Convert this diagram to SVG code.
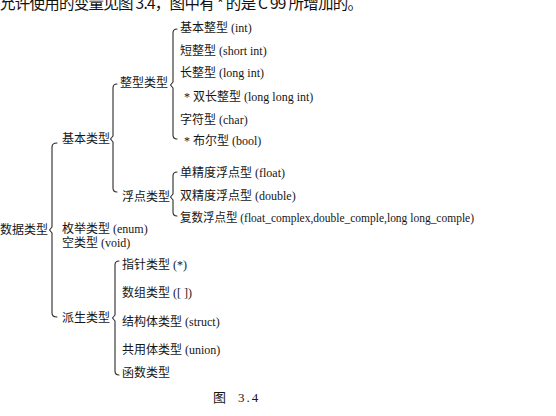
<svg xmlns="http://www.w3.org/2000/svg" width="556" height="416" viewBox="0 0 556 416">
<style>
text{font-family:"Liberation Serif","Noto Sans CJK SC",serif;font-size:12px;fill:#161616}
.top{font-family:"Noto Sans CJK SC",sans-serif;font-size:15.5px;fill:#111}
.cap{font-size:13px}
.br{fill:none;stroke:#2a2a2a;stroke-width:1.1;stroke-linejoin:round;stroke-linecap:round}
</style>
<rect width="556" height="416" fill="#fff"/>
<text class="top" x="0" y="8.5" textLength="363" lengthAdjust="spacing">允许使用的变量见图 3.4，图中有 * 的是 C 99 所增加的。</text>

<g id="connectors">
<path class="br" d="M57 143 Q52 143 52 147 L52 227 L49.5 230 L52 233 L52 313 Q52 317 57 317"/>
<path class="br" d="M117 84 Q113 84 113 88 L113 136 L110.5 139 L113 142 L113 188 Q113 192 117 192"/>
<path class="br" d="M177 29 Q173 29 173 33 L173 82 L170.5 85 L173 88 L173 135 Q173 139 177 139"/>
<path class="br" d="M177 172 Q173 172 173 176 L173 194 L170.5 197 L173 200 L173 212 Q173 216 177 216"/>
<path class="br" d="M119 261 Q115 261 115 265 L115 315 L112.5 318 L115 321 L115 371 Q115 375 119 375"/>
</g>

<g id="n-shuju"><text x="0" y="234">数据类型</text></g>
<g id="n-jiben"><text x="62" y="143">基本类型</text></g>
<g id="n-zhengxing"><text x="120" y="87">整型类型</text></g>
<g id="n-int"><text x="180" y="32">基本整型 (int)</text></g>
<g id="n-short"><text x="180" y="55">短整型 (short int)</text></g>
<g id="n-long"><text x="180" y="77">长整型 (long int)</text></g>
<g id="n-longlong"><text x="184" y="101">* 双长整型 (long long int)</text></g>
<g id="n-char"><text x="180" y="124">字符型 (char)</text></g>
<g id="n-bool"><text x="184" y="145">* 布尔型 (bool)</text></g>
<g id="n-fudian"><text x="122" y="201">浮点类型</text></g>
<g id="n-float"><text x="180" y="177">单精度浮点型 (float)</text></g>
<g id="n-double"><text x="180" y="200">双精度浮点型 (double)</text></g>
<g id="n-complex"><text x="180" y="222" textLength="294" lengthAdjust="spacingAndGlyphs">复数浮点型 (float_complex,double_comple,long long_comple)</text></g>
<g id="n-enum"><text x="62" y="233">枚举类型 (enum)</text></g>
<g id="n-void"><text x="62" y="247">空类型 (void)</text></g>
<g id="n-paisheng"><text x="62" y="322">派生类型</text></g>
<g id="n-pointer"><text x="122" y="269">指针类型 (*)</text></g>
<g id="n-array"><text x="122" y="297">数组类型 ([ ])</text></g>
<g id="n-struct"><text x="122" y="326">结构体类型 (struct)</text></g>
<g id="n-union"><text x="122" y="354">共用体类型 (union)</text></g>
<g id="n-func"><text x="122" y="377">函数类型</text></g>
<text class="cap" x="213" y="402">图 <tspan x="238" letter-spacing="2">3.4</tspan></text>
</svg>
